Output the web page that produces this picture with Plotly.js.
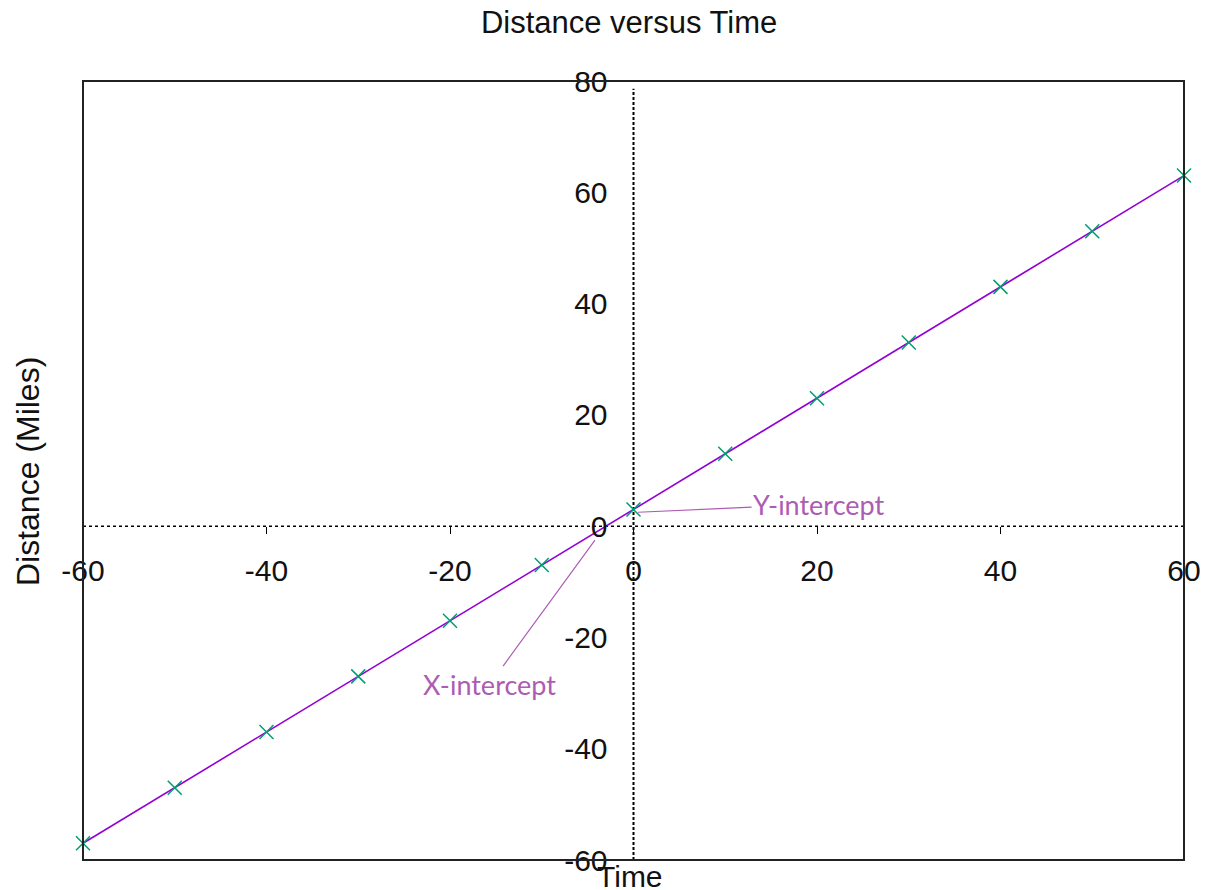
<!DOCTYPE html>
<html>
<head>
<meta charset="utf-8">
<script src="https://cdn.plot.ly/plotly-3.0.1.min.js"></script>
<style>html,body{margin:0;padding:0;background:#fff;}#chart{width:1206px;height:890px;}</style>
</head>
<body>
<div id="chart"></div>
<script>
var timeValues = [-60, -50, -40, -30, -20, -10, 0, 10, 20, 30, 40, 50, 60];
var distanceValues = [-57, -47, -37, -27, -17, -7, 3, 13, 23, 33, 43, 53, 63];
var xTickValues = [-60, -40, -20, 0, 20, 40, 60];
var yTickValues = [-60, -40, -20, 0, 20, 40, 60, 80];
var yInterceptPoint = [0.5, 2.5];
var xInterceptPoint = [-4.2, -2.5];

var FONT = 'Liberation Sans, Arial, sans-serif';
var NOTE_FONT = 'Lato, Open Sans, sans-serif';
var NOTE_COLOR = '#ad5cb3';

var traces = [{
  x: timeValues, y: distanceValues, type: 'scatter', mode: 'lines',
  line: {color: '#9400d3', width: 1.6}, hoverinfo: 'skip', showlegend: false
}, {
  x: timeValues, y: distanceValues, type: 'scatter', mode: 'markers', cliponaxis: false,
  marker: {symbol: 'x-thin', size: 14, line: {color: '#009e73', width: 1.5}},
  hoverinfo: 'skip', showlegend: false
}];

var layout = {
  width: 1206, height: 890,
  margin: {l: 83, r: 22, t: 81, b: 30},
  paper_bgcolor: '#fff', plot_bgcolor: '#fff',
  showlegend: false,
  title: {text: 'Distance versus Time', font: {family: FONT, size: 31, color: '#111'},
          xref: 'container', x: 0.5216, xanchor: 'center', yref: 'container', y: 0.975, yanchor: 'middle'},
  xaxis: {range: [-60, 60], anchor: 'free', position: 60/140,
          tickvals: xTickValues, ticktext: xTickValues.map(String),
          ticks: 'outside', ticklen: 7, tickcolor: '#000', tickwidth: 1,
          ticklabelstandoff: 11,
          showgrid: false, zeroline: false, showline: false,
          tickfont: {family: FONT, size: 30, color: '#111'}, fixedrange: true},
  yaxis: {range: [-60, 80], anchor: 'free', position: 0.5,
          tickvals: yTickValues, ticktext: yTickValues.map(String),
          ticks: '', ticklabelstandoff: 26,
          showgrid: false, zeroline: false, showline: false,
          tickfont: {family: FONT, size: 30, color: '#111'}, fixedrange: true},
  shapes: [
    {type: 'line', xref: 'paper', yref: 'y', x0: 0, x1: 1, y0: 0, y1: 0,
     line: {color: '#000', width: 1.5, dash: '3px,3px'}, layer: 'below'},
    {type: 'line', xref: 'x', yref: 'paper', x0: 0, x1: 0, y0: 0, y1: 0.99,
     line: {color: '#000', width: 2, dash: '3px,2px'}, layer: 'below'},
    {type: 'rect', xref: 'paper', yref: 'paper', x0: 0, x1: 1, y0: 0, y1: 1,
     line: {color: '#222', width: 2}, layer: 'above'}
  ],
  annotations: [
    {text: 'Time', xref: 'paper', yref: 'paper', x: 0.497, y: 0, yshift: -16,
     xanchor: 'center', yanchor: 'middle', showarrow: false,
     font: {family: FONT, size: 30, color: '#111'}},
    {text: 'Distance (Miles)', xref: 'paper', yref: 'paper', x: 0, xshift: -55, y: 0.498,
     xanchor: 'center', yanchor: 'middle', textangle: -90, showarrow: false,
     font: {family: FONT, size: 32, color: '#111'}},
    {text: 'Y-intercept', x: yInterceptPoint[0], y: yInterceptPoint[1], xref: 'x', yref: 'y',
     ax: 181, ay: -8, showarrow: true, arrowhead: 0, arrowwidth: 1.2, arrowcolor: NOTE_COLOR,
     font: {family: NOTE_FONT, size: 27, color: NOTE_COLOR}},
    {text: 'X-intercept', x: xInterceptPoint[0], y: xInterceptPoint[1], xref: 'x', yref: 'y',
     ax: -105, ay: 144, showarrow: true, arrowhead: 0, arrowwidth: 1.2, arrowcolor: NOTE_COLOR,
     font: {family: NOTE_FONT, size: 27, color: NOTE_COLOR}}
  ]
};

Plotly.newPlot('chart', traces, layout, {staticPlot: true, displayModeBar: false});
</script>
</body>
</html>
